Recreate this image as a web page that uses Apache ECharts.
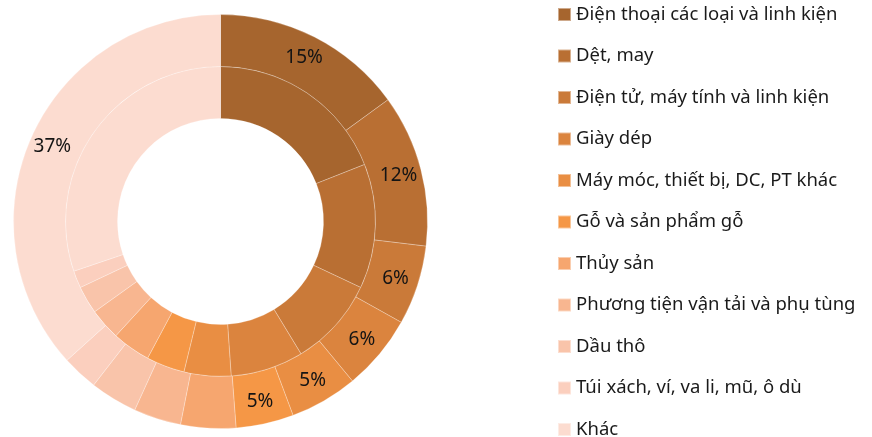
<!DOCTYPE html>
<html>
<head>
<meta charset="utf-8">
<script src="https://cdn.jsdelivr.net/npm/echarts@6/dist/echarts.min.js"></script>
<style>
  html, body { margin: 0; padding: 0; background: #fff; }
  #chart { width: 872px; height: 437px; }
</style>
</head>
<body>
<div id="chart"></div>
<script>
  var categories = ['Điện thoại các loại và linh kiện', 'Dệt, may', 'Điện tử, máy tính và linh kiện', 'Giày dép',
    'Máy móc, thiết bị, DC, PT khác', 'Gỗ và sản phẩm gỗ', 'Thủy sản', 'Phương tiện vận tải và phụ tùng',
    'Dầu thô', 'Túi xách, ví, va li, mũ, ô dù', 'Khác'];
  // vòng ngoài (có nhãn %)
  var outerValues = [15.0, 11.9, 6.2, 5.9, 5.3, 4.5, 4.3, 3.7, 3.7, 2.8, 36.7];
  // vòng trong
  var innerValues = [19.0, 13.0, 9.3, 7.6, 4.9, 4.0, 4.0, 3.3, 2.9, 1.8, 30.2];
  var colors = ['#A6652E', '#B96F33', '#CA7A39', '#DB843E', '#E98E43', '#F59746',
    '#F6A66F', '#F8B690', '#F9C4AA', '#FBCFBE', '#FCDCD0'];

  function buildData(values) {
    return categories.map(function (name, i) {
      return { name: name, value: values[i], itemStyle: { color: colors[i] } };
    });
  }

  var myChart = echarts.init(document.getElementById('chart'));
  myChart.setOption({
    animation: false,
    textStyle: { fontFamily: 'Noto Sans' },
    legend: {
      orient: 'vertical',
      left: 557,
      top: 5,
      height: 460,
      padding: 0,
      itemWidth: 13,
      itemHeight: 13,
      itemGap: 22.5,
      icon: 'rect',
      selectedMode: false,
      textStyle: {
        fontSize: 18.5,
        color: '#1a1a1a',
        fontFamily: 'Noto Sans'
      },
      data: categories
    },
    series: [{
      name: 'inner',
      type: 'pie',
      center: [220.5, 221.5],
      radius: [103, 155],
      startAngle: 90,
      clockwise: true,
      label: { show: false },
      labelLine: { show: false },
      itemStyle: { borderColor: 'rgba(255,255,255,0.45)', borderWidth: 0.6 },
      emphasis: { disabled: true },
      data: buildData(innerValues)
    }, {
      name: 'outer',
      type: 'pie',
      center: [220.5, 221.5],
      radius: [155, 207],
      startAngle: 90,
      clockwise: true,
      label: {
        show: true,
        position: 'inside',
        color: '#141414',
        fontSize: 19,
        fontFamily: 'Noto Sans',
        formatter: function (p) {
          return p.value >= 4.5 ? Math.round(p.value) + '%' : '';
        }
      },
      labelLine: { show: false },
      itemStyle: { borderColor: 'rgba(255,255,255,0.45)', borderWidth: 0.6 },
      emphasis: { disabled: true },
      data: buildData(outerValues)
    }]
  });
  window.addEventListener('resize', function () { myChart.resize(); });
</script>
</body>
</html>
